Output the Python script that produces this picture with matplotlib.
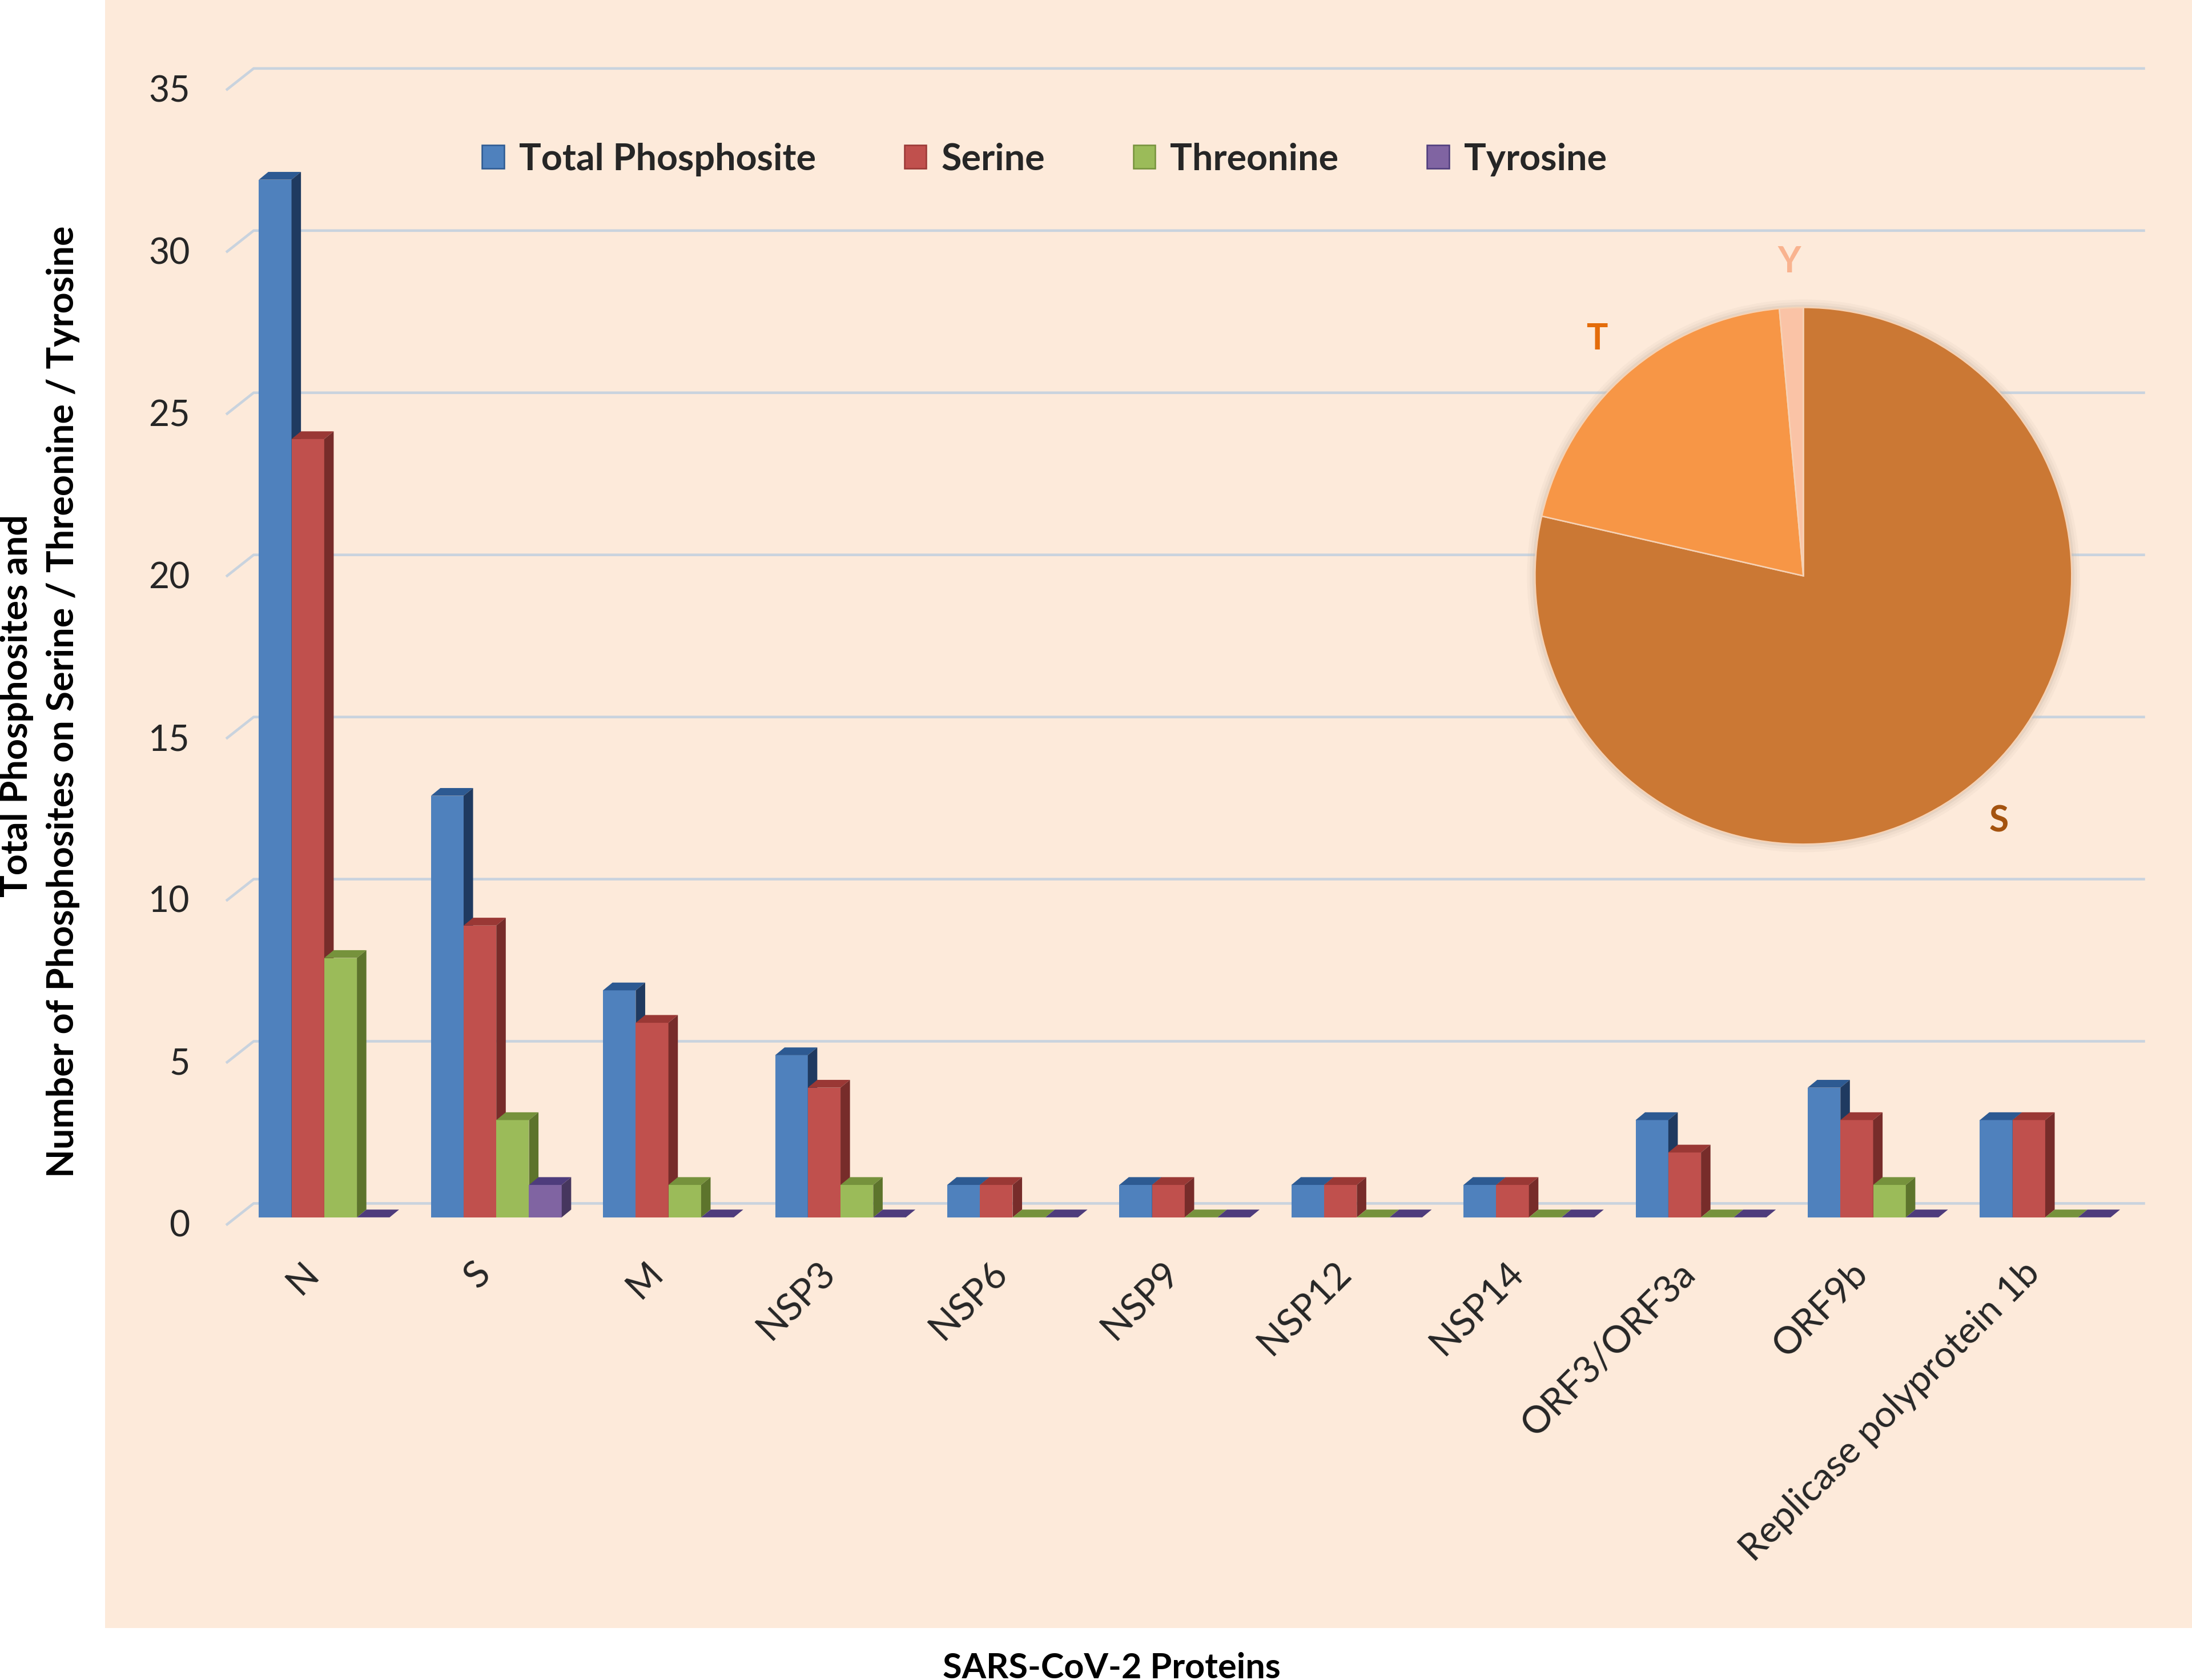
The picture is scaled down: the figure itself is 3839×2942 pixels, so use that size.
import matplotlib
matplotlib.use("Agg")
import matplotlib.pyplot as plt
from matplotlib.patches import Patch, Polygon, Rectangle, Circle
from matplotlib.transforms import ScaledTranslation

plt.rcParams["font.family"] = ["Lato", "DejaVu Sans"]

proteins = ["N", "S", "M", "NSP3", "NSP6", "NSP9", "NSP12", "NSP14",
            "ORF3/ORF3a", "ORF9b", "Replicase polyprotein 1b"]
total_sites = [32, 13, 7, 5, 1, 1, 1, 1, 3, 4, 3]
serine = [24, 9, 6, 4, 1, 1, 1, 1, 2, 3, 3]
threonine = [8, 3, 1, 1, 0, 0, 0, 0, 0, 1, 0]
tyrosine = [0, 1, 0, 0, 0, 0, 0, 0, 0, 0, 0]
series_names = ["Total Phosphosite", "Serine", "Threonine", "Tyrosine"]
y_ticks = [0, 5, 10, 15, 20, 25, 30, 35]

pie_labels = ["S", "T", "Y"]
pie_values = [sum(serine), sum(threonine), sum(tyrosine)]

# front / top / side colours for the fake 3d bars
front_colors = ["#4F81BD", "#C0504D", "#9BBB59", "#8064A2"]
top_colors = ["#2D5A92", "#9A3835", "#76923C", "#4E3C7C"]
side_colors = ["#1F3A60", "#772C2A", "#5D742C", "#46365E"]
pie_colors = ["#CB7834", "#F79646", "#FAC3A6"]
pie_text_colors = ["#A4530F", "#E46C0A", "#F9B38F"]

BG = "#FDEADA"
GRID = "#C9D3DE"
TXT = "#262626"

# layout measured on a 1568 x 1202 view of the picture
W, H = 1568.0, 1202.0

fig = plt.figure(figsize=(3839 / 300, 2942 / 300), dpi=300)
fig.patches.append(Rectangle((75 / W, 1 - 1165 / H), 1 - 75 / W, 1165 / H,
                             transform=fig.transFigure, facecolor=BG,
                             edgecolor="none", zorder=-10))

ax = fig.add_axes([0.1008, 0.2638, 0.8872, 0.7161])
ax.set_xlim(-0.6, 10.7)
ax.set_ylim(-0.6, 36.5)
ax.patch.set_visible(False)
for sp in ax.spines.values():
    sp.set_visible(False)

# back wall gridlines with the little diagonal on the side wall
for v in y_ticks:
    ax.plot([-0.57, -0.41, 10.58], [v - 0.24, v + 0.43, v + 0.43],
            color=GRID, lw=1.1, zorder=1, solid_capstyle="butt")

bar_w = 0.19
dx, dy = 0.055, 0.24
series = [total_sites, serine, threonine, tyrosine]
for k, vals in enumerate(series):
    offs = (k - 1.5) * bar_w
    xs = [i + offs for i in range(len(proteins))]
    ax.bar(xs, vals, width=bar_w, color=front_colors[k], edgecolor="none",
           zorder=3 + k, label=series_names[k])
    for x, h in zip(xs, vals):
        x0 = x - bar_w / 2
        xr = x + bar_w / 2
        ax.add_patch(Polygon([(x0, h), (xr, h), (xr + dx, h + dy), (x0 + dx, h + dy)],
                             closed=True, facecolor=top_colors[k],
                             edgecolor="none", zorder=3.5 + k))
        if h > 0:
            ax.add_patch(Polygon([(xr, 0), (xr + dx, dy), (xr + dx, h + dy), (xr, h)],
                                 closed=True, facecolor=side_colors[k],
                                 edgecolor="none", zorder=3.5 + k))

ax.set_yticks(y_ticks)
ax.set_yticklabels([str(v) for v in y_ticks], fontsize=15, color=TXT)
ax.set_xticks(range(len(proteins)))
ax.set_xticklabels(proteins, fontsize=15.8, color=TXT, rotation=45,
                   ha="right", va="center", rotation_mode="anchor")
ax.tick_params(axis="y", length=0, pad=13)
ax.tick_params(axis="x", length=0, pad=13)
shift_x = ScaledTranslation(-0.065, 0, fig.dpi_scale_trans)
for lab in ax.get_xticklabels():
    lab.set_transform(lab.get_transform() + shift_x)
shift_y = ScaledTranslation(0, -0.035, fig.dpi_scale_trans)
for lab in ax.get_yticklabels():
    lab.set_transform(lab.get_transform() + shift_y)

handles = [Patch(facecolor=c, edgecolor=s, linewidth=0.6)
           for c, s in zip(front_colors, top_colors)]
fig.legend(handles, series_names, loc="center",
           bbox_to_anchor=(0.4764, 1 - 114 / H), ncol=4, frameon=False,
           prop={"weight": "bold", "size": 15.5}, labelcolor=TXT,
           handlelength=0.6, handleheight=0.6, handletextpad=0.4,
           columnspacing=2.4)

# inset pie of residue totals
pax = fig.add_axes([(1290 - 220) / W, 1 - (412 + 220) / H, 440 / W, 440 / H])
pax.axis("off")
R = 192 / 220
for s, a in [(1.03, 0.10), (1.02, 0.15), (1.01, 0.25)]:
    pax.add_patch(Circle((0, 0), R * s, facecolor="#C8B6A6", alpha=a,
                         edgecolor="none", zorder=0))
wedges, texts = pax.pie(pie_values, colors=pie_colors, radius=R,
                        startangle=90, counterclock=False,
                        labels=pie_labels, labeldistance=1.17,
                        wedgeprops={"edgecolor": "#F6D2B5", "linewidth": 0.6},
                        textprops={"fontsize": 15, "fontweight": "bold"})
for t, c in zip(texts, pie_text_colors):
    t.set_color(c)
    t.set_ha("center")
    t.set_va("center")
pax.set_xlim(-1, 1)
pax.set_ylim(-1, 1)

fig.text(12 / W, 1 - 505 / H, "Total Phosphosites and", rotation=90,
         ha="center", va="center", fontsize=15.5, fontweight="bold", color="black")
fig.text(45 / W, 1 - 502 / H,
         "Number of Phosphosites on Serine / Threonine / Tyrosine", rotation=90,
         ha="center", va="center", fontsize=15.5, fontweight="bold", color="black")
fig.text(795 / W, 1 - 1182 / H, "SARS-CoV-2 Proteins", ha="center", va="top",
         fontsize=14.7, fontweight="bold", color="black")

fig.savefig("out.png", dpi=300, facecolor="white")
